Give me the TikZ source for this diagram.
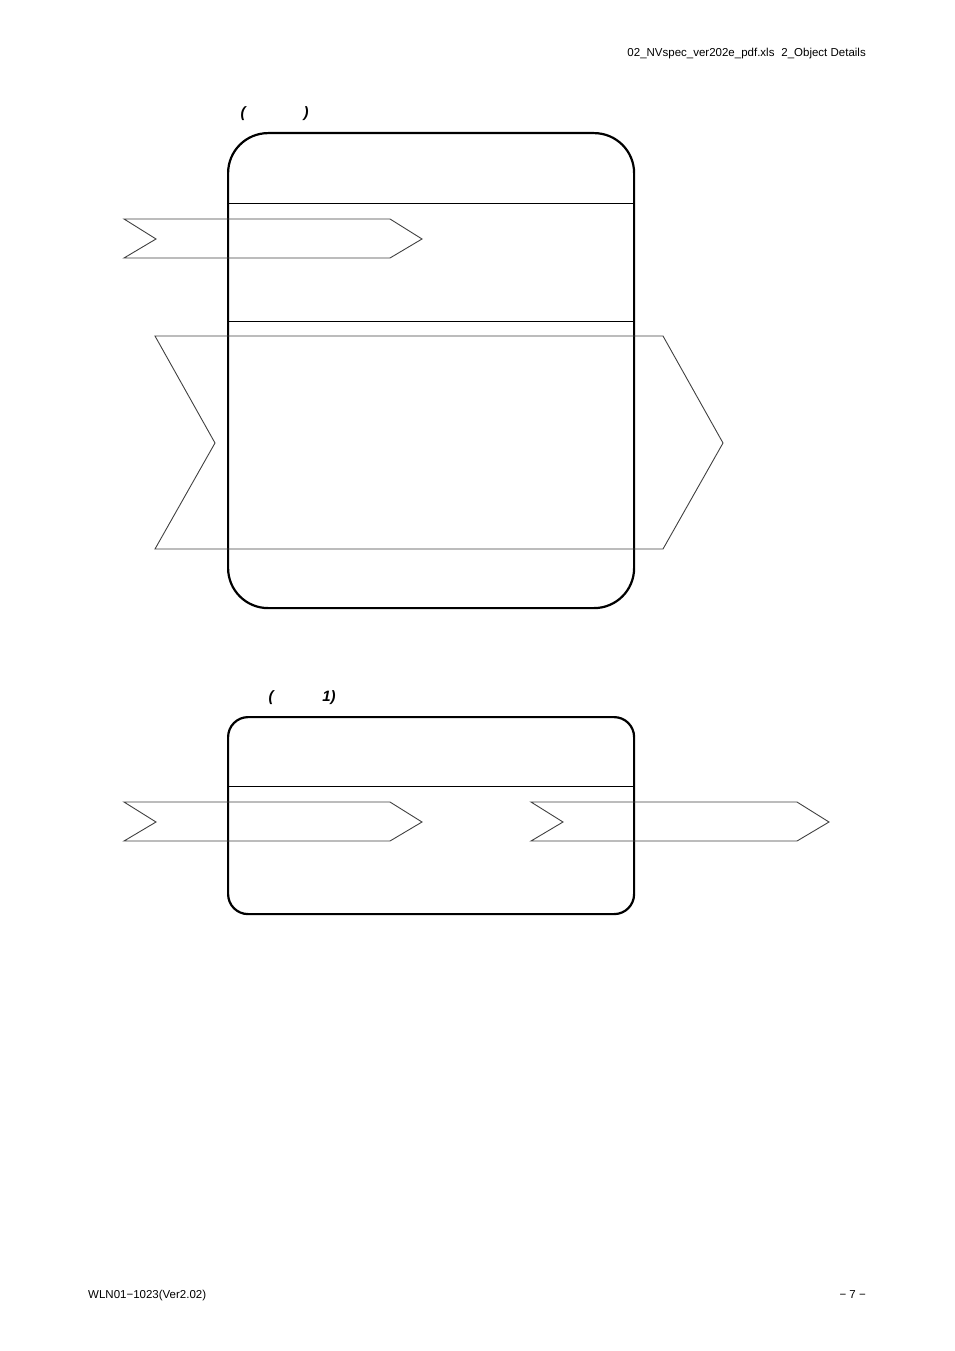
\documentclass[tikz,border=0pt]{standalone}
\usepackage{fontspec}
\setmainfont{Liberation Sans}
\tikzset{
  frame/.style={draw=black, line width=2.2pt, rectangle, inner sep=0pt, anchor=north west},
  divider/.style={draw=black, line width=0.9pt},
  chev/.style={draw=black!75, line width=0.9pt, line join=miter},
  hdr/.style={font=\fontsize{11.5}{13}\selectfont, inner sep=0pt},
  paren/.style={font=\fontsize{15}{17}\selectfont\bfseries\itshape, inner sep=0pt}
}
\begin{document}
\begin{tikzpicture}[x=1pt,y=-1pt]
\useasboundingbox (0,0) rectangle (954,1351);
% header / footer
\node[hdr, anchor=base east] (head) at (866,57) {02\_NVspec\_ver202e\_pdf.xls\hspace{0.6em}2\_Object Details};
\node[hdr, anchor=base west] (foot) at (88,1298) {WLN01−1023(Ver2.02)};
\node[hdr, anchor=base east] (page) at (866,1298) {− 7 −};
% labels
\node[paren] (p1) at (243,114) {(};
\node[paren] (p2) at (306,114) {)};
\node[paren] (p3) at (271,698) {(};
\node[paren] (p4) at (329,698) {1)};
% box 1
\node[frame, rounded corners=40pt, minimum width=406pt, minimum height=475pt] (box1) at (227,132) {};
\draw[divider] (227,203) -- (633,203);
\draw[divider] (227,321) -- (633,321);
% chevrons in box 1
\draw[chev] (124,219) -- (390,219) -- (422,239) -- (390,258) -- (124,258) -- (156,239) -- cycle;
\draw[chev] (155,336) -- (663,336) -- (723,443) -- (663,549) -- (155,549) -- (215,443) -- cycle;
% box 2
\node[frame, rounded corners=20pt, minimum width=406pt, minimum height=197pt] (box2) at (227,716) {};
\draw[divider] (227,786) -- (633,786);
\draw[chev] (124,802) -- (390,802) -- (422,822) -- (390,841) -- (124,841) -- (156,822) -- cycle;
\draw[chev] (531,802) -- (797,802) -- (829,822) -- (797,841) -- (531,841) -- (563,822) -- cycle;
\end{tikzpicture}
\end{document}
